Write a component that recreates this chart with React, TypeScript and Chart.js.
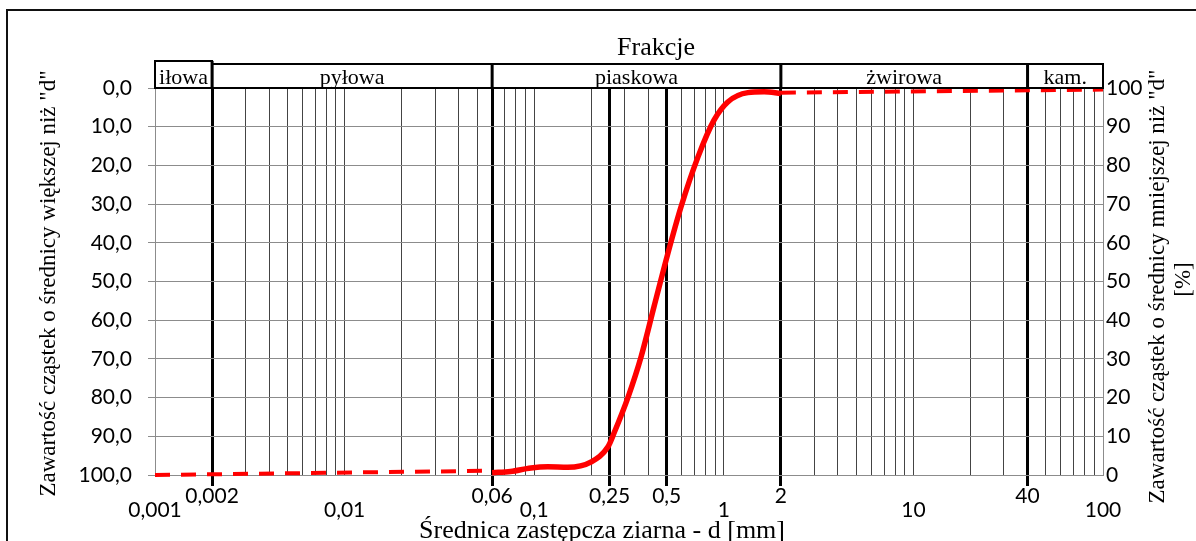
import React, { useEffect, useRef } from 'react';
import { Chart, registerables } from 'chart.js';

Chart.register(...registerables);

// Vertical grid lines (sieve diameters, mm)
const gridDiameters = [
  0.001, 0.002, 0.003, 0.004, 0.005, 0.006, 0.007, 0.008, 0.009,
  0.01, 0.02, 0.03, 0.04, 0.05, 0.06, 0.07, 0.08, 0.09,
  0.1, 0.2, 0.25, 0.3, 0.4, 0.5, 0.6, 0.7, 0.8, 0.9,
  1, 2, 3, 4, 5, 6, 7, 8, 9,
  10, 20, 30, 40, 50, 60, 70, 80, 90, 100,
];

// Lower row of tick labels (decades)
const decadeValues = [0.001, 0.01, 0.1, 1, 10, 100];
const decadeLabels = ['0,001', '0,01', '0,1', '1', '10', '100'];

// Upper row of tick labels (fraction boundaries, thick lines)
const boundaryValues = [0.002, 0.06, 0.25, 0.5, 2, 40];
const boundaryLabels = ['0,002', '0,06', '0,25', '0,5', '2', '40'];

// Fraction header boxes
const fractionNames = ['iłowa', 'pyłowa', 'piaskowa', 'żwirowa', 'kam.'];
const fractionEdges = [0.001, 0.002, 0.06, 2, 40, 100];

// Grain size curve (solid part): diameter [mm] and % passing
const curveDiameters = [0.06, 0.075, 0.096, 0.118, 0.15, 0.2, 0.245, 0.264, 0.313, 0.366, 0.428, 0.508, 0.595, 0.731, 0.888, 1.05, 1.34, 1.63, 2.0];
const curvePassing = [0.6, 0.9, 1.8, 2.1, 2.0, 3.4, 7.3, 10.9, 20.2, 30.5, 43.4, 57.4, 69.3, 82.2, 91.7, 96.4, 98.8, 99.0, 98.6];

// Dashed extrapolated parts
const fineDashDiameters = [0.001, 0.06];
const fineDashPassing = [0, 1.1];
const coarseDashDiameters = [2, 100];
const coarseDashPassing = [98.8, 99.6];

const headerTitle = 'Frakcje';
const leftTitle = 'Zawartość cząstek o średnicy większej niż "d"';
const rightTitleLines = ['Zawartość cząstek o średnicy mniejszej niż "d"', '[%]'];
const xTitle = 'Średnica zastępcza ziarna - d [mm]';

const SERIF = '"Liberation Serif", "Times New Roman", serif';
const SANS = 'Lato, "Liberation Sans", sans-serif';

const same = (a: number, b: number) => Math.abs(Math.log10(a) - Math.log10(b)) < 1e-6;
const isBoundary = (v: any) => typeof v === 'number' && v > 0 && boundaryValues.some((b) => same(b, v));

const toPoints = (xs: number[], ys: number[]) => xs.map((x, i) => ({ x, y: ys[i] }));

const decorPlugin = {
  id: 'decor',
  beforeDraw(chart: any) {
    const { ctx } = chart;
    ctx.save();
    ctx.fillStyle = '#ffffff';
    ctx.fillRect(0, 0, chart.width, chart.height);
    ctx.strokeStyle = '#111';
    ctx.lineWidth = 2;
    ctx.strokeRect(7, 10, chart.width + 40, chart.height + 40);
    ctx.restore();
  },
  afterDraw(chart: any) {
    const { ctx, chartArea: ca, scales } = chart;
    const xs = scales.x;
    const px = (v: number) => xs.getPixelForValue(v);
    ctx.save();
    ctx.fillStyle = '#000';
    ctx.strokeStyle = '#000';

    // "Frakcje"
    ctx.font = `26px ${SERIF}`;
    ctx.textAlign = 'center';
    ctx.textBaseline = 'alphabetic';
    ctx.fillText(headerTitle, (ca.left + ca.right) / 2 + 27, ca.top - 33);

    // header boxes
    const rowTop = ca.top - 24;
    const ilTop = ca.top - 27;
    ctx.lineWidth = 2;
    ctx.strokeRect(px(fractionEdges[1]), rowTop, px(fractionEdges[5]) - px(fractionEdges[1]), ca.top - rowTop);
    ctx.strokeRect(px(fractionEdges[0]), ilTop, px(fractionEdges[1]) - px(fractionEdges[0]), ca.top - ilTop);
    ctx.lineWidth = 3;
    for (let i = 1; i < fractionEdges.length - 1; i++) {
      const x = px(fractionEdges[i]);
      ctx.beginPath();
      ctx.moveTo(x, i === 1 ? ilTop : rowTop);
      ctx.lineTo(x, ca.top);
      ctx.stroke();
    }
    ctx.lineWidth = 2;
    ctx.beginPath();
    ctx.moveTo(ca.left, ca.top);
    ctx.lineTo(ca.right, ca.top);
    ctx.stroke();

    ctx.font = `22px ${SERIF}`;
    for (let i = 0; i < fractionNames.length; i++) {
      const cx = (px(fractionEdges[i]) + px(fractionEdges[i + 1])) / 2;
      ctx.fillText(fractionNames[i], cx, ca.top - 4);
    }

    // x title
    ctx.font = `26px ${SERIF}`;
    ctx.fillText(xTitle, (ca.left + ca.right) / 2 - 27, 538);

    // left title
    ctx.font = `23px ${SERIF}`;
    ctx.save();
    ctx.translate(55, (ca.top + ca.bottom) / 2 + 2);
    ctx.rotate(-Math.PI / 2);
    ctx.fillText(leftTitle, 0, 0);
    ctx.restore();

    // right title (two lines)
    ctx.save();
    ctx.translate(ca.right + 61, (ca.top + ca.bottom) / 2 + 5);
    ctx.rotate(-Math.PI / 2);
    ctx.fillText(rightTitleLines[0], 0, 0);
    ctx.restore();
    ctx.save();
    ctx.translate(ca.right + 87, (ca.top + ca.bottom) / 2 - 2);
    ctx.rotate(-Math.PI / 2);
    ctx.fillText(rightTitleLines[1], 0, 0);
    ctx.restore();

    ctx.restore();
  },
};

export default function App() {
  const canvasRef = useRef<HTMLCanvasElement | null>(null);

  useEffect(() => {
    const canvas = canvasRef.current;
    if (!canvas) return;
    const chart = new Chart(canvas, {
      type: 'line',
      data: {
        datasets: [
          {
            label: 'fine-dash',
            data: toPoints(fineDashDiameters, fineDashPassing),
            xAxisID: 'x',
            yAxisID: 'y2',
            borderColor: '#ff0000',
            borderWidth: 4,
            borderDash: [15, 11],
            pointRadius: 0,
            clip: false,
          },
          {
            label: 'curve',
            data: toPoints(curveDiameters, curvePassing),
            xAxisID: 'x',
            yAxisID: 'y2',
            borderColor: '#ff0000',
            borderWidth: 5.5,
            cubicInterpolationMode: 'monotone',
            pointRadius: 0,
            clip: false,
          },
          {
            label: 'coarse-dash',
            data: toPoints(coarseDashDiameters, coarseDashPassing),
            xAxisID: 'x',
            yAxisID: 'y2',
            borderColor: '#ff0000',
            borderWidth: 4,
            borderDash: [15, 11],
            pointRadius: 0,
            clip: false,
          },
        ],
      },
      options: {
        responsive: false,
        animation: false,
        devicePixelRatio: 1,
        layout: { padding: { top: 88, left: 0, right: 0, bottom: 0 } },
        plugins: { legend: { display: false }, tooltip: { enabled: false }, title: { display: false } },
        scales: {
          x: {
            type: 'logarithmic',
            position: 'bottom',
            min: 0.001,
            max: 100,
            afterBuildTicks: (s: any) => {
              s.ticks = gridDiameters.map((v) => ({ value: v }));
            },
            afterFit: (s: any) => {
              s.height = 66;
            },
            border: { display: true, color: '#8c8c8c', width: 1 },
            grid: {
              color: (c: any) => (isBoundary(c.tick?.value) ? '#000000' : '#444444'),
              lineWidth: (c: any) => (isBoundary(c.tick?.value) ? 3 : 1),
              drawTicks: true,
              tickLength: 11,
              tickColor: (c: any) => (isBoundary(c.tick?.value) ? '#000000' : 'rgba(0,0,0,0)'),
              tickWidth: (c: any) => (isBoundary(c.tick?.value) ? 3 : 1),
            },
            ticks: {
              autoSkip: false,
              maxRotation: 0,
              minRotation: 0,
              padding: 3,
              color: '#000',
              font: { family: SANS, size: 21, lineHeight: '14px' },
              callback: (value: any) => {
                const v = Number(value);
                const di = decadeValues.findIndex((d) => same(d, v));
                if (di >= 0) return ['', decadeLabels[di]];
                const bi = boundaryValues.findIndex((d) => same(d, v));
                if (bi >= 0) return boundaryLabels[bi];
                return '';
              },
            },
          },
          y: {
            type: 'linear',
            position: 'left',
            reverse: true,
            min: 0,
            max: 100,
            afterFit: (s: any) => {
              s.width = 155;
            },
            ticks: {
              stepSize: 10,
              padding: 16,
              color: '#000',
              font: { family: SANS, size: 21 },
              callback: (v: any) => Number(v).toFixed(1).replace('.', ','),
            },
            grid: { color: '#8c8c8c', lineWidth: 1, drawTicks: true, tickLength: 7, tickColor: '#8c8c8c' },
            border: { display: true, color: '#8c8c8c', width: 1 },
          },
          y2: {
            type: 'linear',
            position: 'right',
            min: 0,
            max: 100,
            afterFit: (s: any) => {
              s.width = 93;
            },
            ticks: {
              stepSize: 10,
              padding: 3,
              color: '#000',
              font: { family: SANS, size: 21 },
              callback: (v: any) => String(v),
            },
            grid: { display: false, drawTicks: false },
            border: { display: true, color: '#8c8c8c', width: 1 },
          },
        },
      },
      plugins: [decorPlugin],
    } as any);
    return () => chart.destroy();
  }, []);

  return (
    <canvas
      ref={canvasRef}
      width={1196}
      height={541}
      style={{ position: 'fixed', left: 0, top: 0, display: 'block' }}
    />
  );
}
